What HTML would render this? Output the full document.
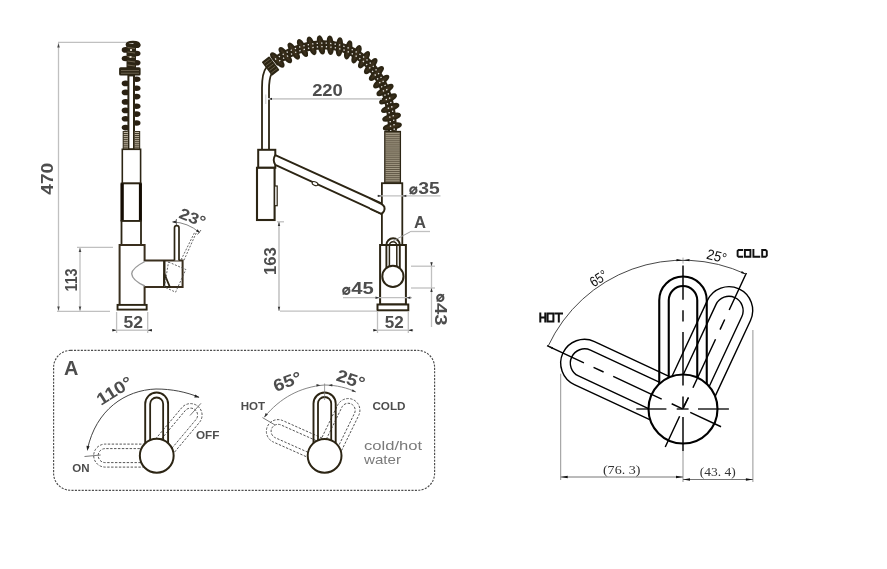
<!DOCTYPE html>
<html><head><meta charset="utf-8"><style>
html,body{margin:0;padding:0;background:#fff;}
body{width:887px;height:569px;overflow:hidden;}
svg{display:block;will-change:transform;}
</style></head><body>
<svg width="887" height="569" viewBox="0 0 887 569">
<rect width="887" height="569" fill="#fff"/>
<line x1="58" y1="42.4" x2="127" y2="42.4" stroke="#c0c0c0" stroke-width="1.3" />
<line x1="58.5" y1="43" x2="58.5" y2="311" stroke="#c0c0c0" stroke-width="1.3" />
<path d="M58.5 43.5 L59.8 47.5 L57.2 47.5 Z" fill="#444"/>
<path d="M58.5 310.5 L57.2 306.5 L59.8 306.5 Z" fill="#444"/>
<text x="46.6" y="178.7" font-family="Liberation Sans" font-size="16.5" font-weight="bold" fill="#4d4d4d" text-anchor="middle" dominant-baseline="central" transform="rotate(-90 46.6 178.7)" textLength="32" lengthAdjust="spacingAndGlyphs" >470</text>
<line x1="77" y1="247.3" x2="113" y2="247.3" stroke="#c0c0c0" stroke-width="1.3" />
<line x1="80" y1="248" x2="80" y2="311" stroke="#c0c0c0" stroke-width="1.3" />
<path d="M80 248 L81.3 252 L78.7 252 Z" fill="#444"/>
<path d="M80 310.5 L78.7 306.5 L81.3 306.5 Z" fill="#444"/>
<line x1="57" y1="311.3" x2="110" y2="311.3" stroke="#c0c0c0" stroke-width="1.3" />
<text x="71.2" y="280" font-family="Liberation Sans" font-size="16.5" font-weight="bold" fill="#4d4d4d" text-anchor="middle" dominant-baseline="central" transform="rotate(-90 71.2 280)" textLength="23" lengthAdjust="spacingAndGlyphs" >113</text>
<line x1="116.6" y1="312" x2="116.6" y2="333" stroke="#c0c0c0" stroke-width="1.3" />
<line x1="147.7" y1="312" x2="147.7" y2="333" stroke="#c0c0c0" stroke-width="1.3" />
<line x1="112" y1="330.2" x2="152" y2="330.2" stroke="#c8c8c8" stroke-width="1.5" />
<path d="M116.6 330.2 L112.4 331.4 L112.4 329 Z" fill="#222"/>
<path d="M147.7 330.2 L151.9 329 L151.9 331.4 Z" fill="#222"/>
<text x="133.2" y="322" font-family="Liberation Sans" font-size="16.5" font-weight="bold" fill="#4d4d4d" text-anchor="middle" dominant-baseline="central" textLength="19.5" lengthAdjust="spacingAndGlyphs" >52</text>
<ellipse cx="125.6" cy="49.9" rx="3.9" ry="2.8" fill="#2a2112"/>
<ellipse cx="125.6" cy="58.5" rx="3.9" ry="2.8" fill="#2a2112"/>
<ellipse cx="125.6" cy="83.4" rx="3.9" ry="2.8" fill="#2a2112"/>
<ellipse cx="125.6" cy="92.4" rx="3.9" ry="2.8" fill="#2a2112"/>
<ellipse cx="125.6" cy="101.9" rx="3.9" ry="2.8" fill="#2a2112"/>
<ellipse cx="125.6" cy="110.4" rx="3.9" ry="2.8" fill="#2a2112"/>
<ellipse cx="125.6" cy="118.8" rx="3.9" ry="2.8" fill="#2a2112"/>
<ellipse cx="125.6" cy="127.6" rx="3.9" ry="2.8" fill="#2a2112"/>
<ellipse cx="136.6" cy="45.3" rx="3.9" ry="2.8" fill="#2a2112"/>
<ellipse cx="136.6" cy="53.5" rx="3.9" ry="2.8" fill="#2a2112"/>
<ellipse cx="136.6" cy="62.7" rx="3.9" ry="2.8" fill="#2a2112"/>
<ellipse cx="136.6" cy="79.2" rx="3.9" ry="2.8" fill="#2a2112"/>
<ellipse cx="136.6" cy="88.2" rx="3.9" ry="2.8" fill="#2a2112"/>
<ellipse cx="136.6" cy="96.6" rx="3.9" ry="2.8" fill="#2a2112"/>
<ellipse cx="136.6" cy="106.2" rx="3.9" ry="2.8" fill="#2a2112"/>
<ellipse cx="136.6" cy="114.1" rx="3.9" ry="2.8" fill="#2a2112"/>
<ellipse cx="136.6" cy="123" rx="3.9" ry="2.8" fill="#2a2112"/>
<ellipse cx="133" cy="44.6" rx="6.2" ry="2.6" fill="none" stroke="#2c2514" stroke-width="2.4"/>
<rect x="126.5" y="44" width="9.5" height="24" fill="#2c2514"/>
<line x1="127.5" y1="47.5" x2="135" y2="48.5" stroke="#7d725c" stroke-width="0.8" />
<line x1="127.5" y1="52" x2="135" y2="53" stroke="#7d725c" stroke-width="0.8" />
<line x1="127.5" y1="56.5" x2="135" y2="57.5" stroke="#7d725c" stroke-width="0.8" />
<line x1="127.5" y1="61" x2="135" y2="62" stroke="#7d725c" stroke-width="0.8" />
<line x1="127.5" y1="65" x2="135" y2="66" stroke="#7d725c" stroke-width="0.8" />
<rect x="130" y="49" width="2" height="2" fill="#d8d2c4"/>
<rect x="129.5" y="56" width="2" height="2" fill="#d8d2c4"/>
<rect x="119.1" y="67.2" width="21.5" height="8.2" rx="1.5" fill="#2c2514"/>
<line x1="121" y1="70.6" x2="139" y2="70.6" stroke="#8a7f6a" stroke-width="0.7" />
<line x1="121" y1="73.2" x2="139" y2="73.2" stroke="#8a7f6a" stroke-width="0.7" />
<rect x="128.4" y="75.4" width="5.6" height="74" fill="#fff" stroke="#2c2514" stroke-width="2"/>
<rect x="123.2" y="131" width="4.6" height="18.4" fill="#c2b9a6"/>
<rect x="134.7" y="131" width="5" height="18.4" fill="#c2b9a6"/>
<line x1="123.2" y1="131.5" x2="127.8" y2="131.5" stroke="#2c2514" stroke-width="0.9" />
<line x1="134.7" y1="131.5" x2="139.7" y2="131.5" stroke="#2c2514" stroke-width="0.9" />
<line x1="123.2" y1="133.55" x2="127.8" y2="133.55" stroke="#2c2514" stroke-width="0.9" />
<line x1="134.7" y1="133.55" x2="139.7" y2="133.55" stroke="#2c2514" stroke-width="0.9" />
<line x1="123.2" y1="135.6" x2="127.8" y2="135.6" stroke="#2c2514" stroke-width="0.9" />
<line x1="134.7" y1="135.6" x2="139.7" y2="135.6" stroke="#2c2514" stroke-width="0.9" />
<line x1="123.2" y1="137.65" x2="127.8" y2="137.65" stroke="#2c2514" stroke-width="0.9" />
<line x1="134.7" y1="137.65" x2="139.7" y2="137.65" stroke="#2c2514" stroke-width="0.9" />
<line x1="123.2" y1="139.7" x2="127.8" y2="139.7" stroke="#2c2514" stroke-width="0.9" />
<line x1="134.7" y1="139.7" x2="139.7" y2="139.7" stroke="#2c2514" stroke-width="0.9" />
<line x1="123.2" y1="141.75" x2="127.8" y2="141.75" stroke="#2c2514" stroke-width="0.9" />
<line x1="134.7" y1="141.75" x2="139.7" y2="141.75" stroke="#2c2514" stroke-width="0.9" />
<line x1="123.2" y1="143.8" x2="127.8" y2="143.8" stroke="#2c2514" stroke-width="0.9" />
<line x1="134.7" y1="143.8" x2="139.7" y2="143.8" stroke="#2c2514" stroke-width="0.9" />
<line x1="123.2" y1="145.85" x2="127.8" y2="145.85" stroke="#2c2514" stroke-width="0.9" />
<line x1="134.7" y1="145.85" x2="139.7" y2="145.85" stroke="#2c2514" stroke-width="0.9" />
<line x1="123.2" y1="147.9" x2="127.8" y2="147.9" stroke="#2c2514" stroke-width="0.9" />
<line x1="134.7" y1="147.9" x2="139.7" y2="147.9" stroke="#2c2514" stroke-width="0.9" />
<line x1="123.2" y1="131" x2="123.2" y2="149.4" stroke="#2c2514" stroke-width="1" />
<line x1="139.7" y1="131" x2="139.7" y2="149.4" stroke="#2c2514" stroke-width="1" />
<rect x="122.3" y="149.3" width="18.3" height="34.1" fill="#fff" stroke="#2c2514" stroke-width="1.6"/>
<rect x="121.6" y="183.4" width="19.1" height="37.6" fill="#fff" stroke="#2c2514" stroke-width="1.8"/>
<line x1="122.2" y1="183.4" x2="122.2" y2="221" stroke="#140c02" stroke-width="3.2" />
<line x1="140.4" y1="183.4" x2="140.4" y2="221" stroke="#140c02" stroke-width="3.0" />
<rect x="121.5" y="221" width="19.5" height="24.1" fill="#fff" stroke="#2c2514" stroke-width="1.8"/>
<path d="M119.6 304 V245.1 H144.6 V260.6 H182.6 V286.9 H144.6 V304" fill="#fff" stroke="#3a2f1e" stroke-width="2"/>
<path d="M144.9 261.5 C136 266 132 270 131.7 273.7 C132 278 136 282 144.9 286" fill="none" stroke="#9a9a9a" stroke-width="1.4"/>
<line x1="164.3" y1="260.6" x2="164.3" y2="286.9" stroke="#2c2514" stroke-width="2.4" />
<path d="M164.3 273.5 L169.8 286.9 L164.3 286.9 Z" fill="#fff" stroke="#2c2514" stroke-width="1.8" stroke-linejoin="miter"/>
<rect x="117.55" y="304.9" width="29.1" height="4.7" fill="#fff" stroke="#2c2514" stroke-width="1.9"/>
<path d="M174.5 260.6 V227.8 A2.25 2.25 0 0 1 179 227.8 V260.6" fill="#fff" stroke="#2c2514" stroke-width="1.7"/>
<path d="M168.5 262 L185.8 269.5 L175.6 292.2 L164.5 287 Z" fill="none" stroke="#555" stroke-width="0.9" stroke-dasharray="2 1.5"/>
<path d="M181.1 259.8 L194.6 232.4 M183.9 260.3 L197 231.2" stroke="#555" stroke-width="0.9" stroke-dasharray="2 1.5"/>
<path d="M172.5 221.9 Q188 222.5 199.5 232.6" fill="none" stroke="#777" stroke-width="0.9"/>
<path d="M172.1 221.9 L175.9 220.6 L175.9 223.2 Z" fill="#222"/>
<path d="M199.7 232.8 L195.99 231.27 L197.7 229.32 Z" fill="#222"/>
<line x1="176.4" y1="219" x2="176.4" y2="225" stroke="#444" stroke-width="0.8" />
<line x1="197.5" y1="234.5" x2="201" y2="230" stroke="#444" stroke-width="0.8" />
<text x="192.6" y="217.4" font-family="Liberation Sans" font-size="15.5" font-weight="bold" fill="#4d4d4d" text-anchor="middle" dominant-baseline="central" transform="rotate(22 192.6 217.4)" textLength="27" lengthAdjust="spacingAndGlyphs" >23°</text>
<path d="M274.5 62 L277.73 59.76 L280.98 57.69 L284.25 55.77 L287.53 54.01 L290.82 52.41 L294.11 50.96 L297.41 49.67 L300.7 48.54 L303.99 47.56 L307.27 46.73 L310.54 46.06 L313.79 45.54 L317.02 45.16 L320.24 44.94 L323.42 44.87 L326.58 44.95 L329.71 45.18 L332.8 45.56 L335.85 46.08 L338.86 46.75 L341.82 47.56 L344.74 48.52 L347.6 49.62 L350.4 50.86 L353.15 52.25 L355.83 53.78 L358.45 55.45 L361 57.26 L363.47 59.21 L365.87 61.29 L368.19 63.52 L370.42 65.88 L372.57 68.38 L374.62 71.02 L376.59 73.79 L378.45 76.69 L380.22 79.73 L381.88 82.9 L383.44 86.2 L384.88 89.63 L386.21 93.19 L387.43 96.88 L388.52 100.71 L389.49 104.65 L390.33 108.73 L391.04 112.94 L391.61 117.26 L392.05 121.72 L392.35 126.3 L392.5 131 L392.5 131" fill="none" stroke="#2f2616" stroke-width="9"/>
<ellipse cx="277.37" cy="60" rx="8.8" ry="2.6" transform="rotate(46.25 277.37 60)" fill="#3a2f1c" stroke="#2c2514" stroke-width="1.9"/>
<ellipse cx="285.35" cy="55.16" rx="8.8" ry="2.6" transform="rotate(51.37 285.35 55.16)" fill="#3a2f1c" stroke="#2c2514" stroke-width="1.9"/>
<ellipse cx="293.75" cy="51.11" rx="8.8" ry="2.6" transform="rotate(57.31 293.75 51.11)" fill="#3a2f1c" stroke="#2c2514" stroke-width="1.9"/>
<ellipse cx="302.54" cy="47.97" rx="8.8" ry="2.6" transform="rotate(63.55 302.54 47.97)" fill="#3a2f1c" stroke="#2c2514" stroke-width="1.9"/>
<ellipse cx="311.62" cy="45.87" rx="8.8" ry="2.6" transform="rotate(70.41 311.62 45.87)" fill="#3a2f1c" stroke="#2c2514" stroke-width="1.9"/>
<ellipse cx="320.9" cy="44.92" rx="8.8" ry="2.6" transform="rotate(77.91 320.9 44.92)" fill="#3a2f1c" stroke="#2c2514" stroke-width="1.9"/>
<ellipse cx="330.22" cy="45.23" rx="8.8" ry="2.6" transform="rotate(86.05 330.22 45.23)" fill="#3a2f1c" stroke="#2c2514" stroke-width="1.9"/>
<ellipse cx="339.4" cy="46.88" rx="8.8" ry="2.6" transform="rotate(94.46 339.4 46.88)" fill="#3a2f1c" stroke="#2c2514" stroke-width="1.9"/>
<ellipse cx="348.22" cy="49.88" rx="8.8" ry="2.6" transform="rotate(103.03 348.22 49.88)" fill="#3a2f1c" stroke="#2c2514" stroke-width="1.9"/>
<ellipse cx="356.5" cy="54.18" rx="8.8" ry="2.6" transform="rotate(112 356.5 54.18)" fill="#3a2f1c" stroke="#2c2514" stroke-width="1.9"/>
<ellipse cx="364.03" cy="59.68" rx="8.8" ry="2.6" transform="rotate(120.17 364.03 59.68)" fill="#3a2f1c" stroke="#2c2514" stroke-width="1.9"/>
<ellipse cx="370.7" cy="66.19" rx="8.8" ry="2.6" transform="rotate(128.48 370.7 66.19)" fill="#3a2f1c" stroke="#2c2514" stroke-width="1.9"/>
<ellipse cx="376.43" cy="73.55" rx="8.8" ry="2.6" transform="rotate(135.8 376.43 73.55)" fill="#3a2f1c" stroke="#2c2514" stroke-width="1.9"/>
<ellipse cx="381.21" cy="81.56" rx="8.8" ry="2.6" transform="rotate(142.47 381.21 81.56)" fill="#3a2f1c" stroke="#2c2514" stroke-width="1.9"/>
<ellipse cx="385.05" cy="90.06" rx="8.8" ry="2.6" transform="rotate(148.5 385.05 90.06)" fill="#3a2f1c" stroke="#2c2514" stroke-width="1.9"/>
<ellipse cx="388.03" cy="98.9" rx="8.8" ry="2.6" transform="rotate(154.18 388.03 98.9)" fill="#3a2f1c" stroke="#2c2514" stroke-width="1.9"/>
<ellipse cx="390.19" cy="107.98" rx="8.8" ry="2.6" transform="rotate(159 390.19 107.98)" fill="#3a2f1c" stroke="#2c2514" stroke-width="1.9"/>
<ellipse cx="391.61" cy="117.2" rx="8.8" ry="2.6" transform="rotate(163.29 391.61 117.2)" fill="#3a2f1c" stroke="#2c2514" stroke-width="1.9"/>
<ellipse cx="392.36" cy="126.5" rx="8.8" ry="2.6" transform="rotate(167.35 392.36 126.5)" fill="#3a2f1c" stroke="#2c2514" stroke-width="1.9"/>
<path d="M275.08 59.39 L276.72 58.27 L278.37 57.2 L280.03 56.16 L281.69 55.17 L283.35 54.21 L285.02 53.29 L286.69 52.42 L288.37 51.58 L290.05 50.78 L291.72 50.03 L293.4 49.31 L295.09 48.63 L296.77 47.99 L298.45 47.39 L300.13 46.83 L301.81 46.31 L303.49 45.83 L305.17 45.38 L306.85 44.98 L308.52 44.62 L310.19 44.29 L311.86 44 L313.52 43.76 L315.18 43.55 L316.84 43.37 L318.49 43.24 L320.13 43.15 L321.77 43.09 L323.41 43.07 L325.03 43.1 L326.65 43.16 L328.26 43.25 L329.86 43.39 L331.45 43.56 L333.04 43.77 L334.61 44.02 L336.18 44.31 L337.73 44.63 L339.27 44.99 L340.8 45.39 L342.32 45.83 L343.83 46.3 L345.32 46.81 L346.8 47.36 L348.27 47.95 L349.72 48.57 L351.15 49.23 L352.58 49.92 L353.98 50.65 L355.37 51.42 L356.74 52.23 L358.1 53.07 L359.44 53.94 L360.76 54.86 L362.06 55.8 L363.34 56.79 L364.6 57.81 L365.84 58.86 L367.07 59.95 L368.27 61.08 L369.45 62.24 L370.61 63.43 L371.74 64.66 L372.86 65.93 L373.95 67.22 L375.01 68.56 L376.06 69.92 L377.07 71.33 L378.07 72.76 L379.04 74.23 L379.98 75.73 L380.9 77.27 L381.79 78.84 L382.65 80.44 L383.49 82.08 L384.3 83.74 L385.08 85.45 L385.83 87.18 L386.55 88.95 L387.24 90.75 L387.91 92.58 L388.54 94.44 L389.14 96.34 L389.72 98.27 L390.26 100.23 L390.76 102.22 L391.24 104.24 L391.69 106.3 L392.1 108.38 L392.47 110.5 L392.82 112.65 L393.13 114.83 L393.4 117.04 L393.64 119.28 L393.85 121.56 L394.01 123.86 L394.15 126.2 L394.24 128.56 L394.3 130.96" fill="none" stroke="#fff" stroke-width="1.3" stroke-dasharray="1.3 3.2" opacity="0.9"/>
<path d="M277.15 62.33 L278.74 61.25 L280.34 60.21 L281.94 59.21 L283.54 58.25 L285.15 57.33 L286.76 56.45 L288.37 55.6 L289.98 54.8 L291.59 54.03 L293.2 53.31 L294.82 52.62 L296.43 51.97 L298.04 51.36 L299.66 50.78 L301.27 50.25 L302.88 49.75 L304.48 49.29 L306.09 48.87 L307.69 48.48 L309.29 48.13 L310.88 47.82 L312.47 47.55 L314.05 47.32 L315.63 47.12 L317.21 46.96 L318.78 46.83 L320.34 46.74 L321.89 46.69 L323.44 46.67 L324.98 46.7 L326.52 46.75 L328.04 46.85 L329.56 46.97 L331.06 47.14 L332.56 47.34 L334.05 47.58 L335.53 47.85 L336.99 48.16 L338.45 48.5 L339.89 48.88 L341.33 49.29 L342.75 49.74 L344.15 50.22 L345.55 50.74 L346.93 51.29 L348.3 51.88 L349.65 52.5 L350.99 53.16 L352.32 53.85 L353.63 54.57 L354.92 55.33 L356.2 56.13 L357.46 56.95 L358.71 57.82 L359.94 58.71 L361.15 59.64 L362.34 60.61 L363.51 61.61 L364.67 62.64 L365.81 63.7 L366.92 64.8 L368.02 65.94 L369.1 67.1 L370.15 68.3 L371.19 69.54 L372.2 70.81 L373.19 72.11 L374.16 73.44 L375.11 74.81 L376.03 76.21 L376.93 77.65 L377.8 79.11 L378.66 80.61 L379.48 82.15 L380.28 83.71 L381.06 85.31 L381.8 86.95 L382.52 88.61 L383.22 90.31 L383.88 92.04 L384.52 93.8 L385.13 95.6 L385.71 97.43 L386.26 99.29 L386.79 101.18 L387.28 103.11 L387.74 105.07 L388.17 107.06 L388.56 109.08 L388.93 111.13 L389.26 113.22 L389.56 115.34 L389.83 117.49 L390.06 119.67 L390.26 121.88 L390.42 124.12 L390.55 126.4 L390.64 128.71 L390.7 131.04" fill="none" stroke="#fff" stroke-width="1.3" stroke-dasharray="1.3 3.2" stroke-dashoffset="2" opacity="0.9"/>
<path d="M262 149 V88 C262 78 263.5 71 266.3 67.5" fill="none" stroke="#2c2514" stroke-width="1.8"/>
<path d="M269 149 V90 C269 82 269.8 77 271.5 73.8" fill="none" stroke="#2c2514" stroke-width="1.8"/>
<rect x="-4.8" y="-8.6" width="9.6" height="17.2" rx="1" fill="#2c2514" transform="translate(270.6 66) rotate(-37)"/>
<line x1="-3.6" y1="-6" x2="3.6" y2="-6" stroke="#7d725c" stroke-width="0.6" transform="translate(270.6 66) rotate(-37)"/>
<line x1="-3.6" y1="-3" x2="3.6" y2="-3" stroke="#7d725c" stroke-width="0.6" transform="translate(270.6 66) rotate(-37)"/>
<line x1="-3.6" y1="0" x2="3.6" y2="0" stroke="#7d725c" stroke-width="0.6" transform="translate(270.6 66) rotate(-37)"/>
<line x1="-3.6" y1="3" x2="3.6" y2="3" stroke="#7d725c" stroke-width="0.6" transform="translate(270.6 66) rotate(-37)"/>
<line x1="-3.6" y1="6" x2="3.6" y2="6" stroke="#7d725c" stroke-width="0.6" transform="translate(270.6 66) rotate(-37)"/>
<rect x="384.8" y="131.5" width="15.6" height="51.7" fill="#a39a85" stroke="#2c2514" stroke-width="1.3"/>
<line x1="385.3" y1="132.6" x2="399.9" y2="132.6" stroke="#4a4030" stroke-width="0.75" />
<line x1="385.3" y1="134.65" x2="399.9" y2="134.65" stroke="#4a4030" stroke-width="0.75" />
<line x1="385.3" y1="136.7" x2="399.9" y2="136.7" stroke="#4a4030" stroke-width="0.75" />
<line x1="385.3" y1="138.75" x2="399.9" y2="138.75" stroke="#4a4030" stroke-width="0.75" />
<line x1="385.3" y1="140.8" x2="399.9" y2="140.8" stroke="#4a4030" stroke-width="0.75" />
<line x1="385.3" y1="142.85" x2="399.9" y2="142.85" stroke="#4a4030" stroke-width="0.75" />
<line x1="385.3" y1="144.9" x2="399.9" y2="144.9" stroke="#4a4030" stroke-width="0.75" />
<line x1="385.3" y1="146.95" x2="399.9" y2="146.95" stroke="#4a4030" stroke-width="0.75" />
<line x1="385.3" y1="149" x2="399.9" y2="149" stroke="#4a4030" stroke-width="0.75" />
<line x1="385.3" y1="151.05" x2="399.9" y2="151.05" stroke="#4a4030" stroke-width="0.75" />
<line x1="385.3" y1="153.1" x2="399.9" y2="153.1" stroke="#4a4030" stroke-width="0.75" />
<line x1="385.3" y1="155.15" x2="399.9" y2="155.15" stroke="#4a4030" stroke-width="0.75" />
<line x1="385.3" y1="157.2" x2="399.9" y2="157.2" stroke="#4a4030" stroke-width="0.75" />
<line x1="385.3" y1="159.25" x2="399.9" y2="159.25" stroke="#4a4030" stroke-width="0.75" />
<line x1="385.3" y1="161.3" x2="399.9" y2="161.3" stroke="#4a4030" stroke-width="0.75" />
<line x1="385.3" y1="163.35" x2="399.9" y2="163.35" stroke="#4a4030" stroke-width="0.75" />
<line x1="385.3" y1="165.4" x2="399.9" y2="165.4" stroke="#4a4030" stroke-width="0.75" />
<line x1="385.3" y1="167.45" x2="399.9" y2="167.45" stroke="#4a4030" stroke-width="0.75" />
<line x1="385.3" y1="169.5" x2="399.9" y2="169.5" stroke="#4a4030" stroke-width="0.75" />
<line x1="385.3" y1="171.55" x2="399.9" y2="171.55" stroke="#4a4030" stroke-width="0.75" />
<line x1="385.3" y1="173.6" x2="399.9" y2="173.6" stroke="#4a4030" stroke-width="0.75" />
<line x1="385.3" y1="175.65" x2="399.9" y2="175.65" stroke="#4a4030" stroke-width="0.75" />
<line x1="385.3" y1="177.7" x2="399.9" y2="177.7" stroke="#4a4030" stroke-width="0.75" />
<line x1="385.3" y1="179.75" x2="399.9" y2="179.75" stroke="#4a4030" stroke-width="0.75" />
<line x1="385.3" y1="181.8" x2="399.9" y2="181.8" stroke="#4a4030" stroke-width="0.75" />
<rect x="258.2" y="149.8" width="17.1" height="18" fill="#fff" stroke="#2c2514" stroke-width="2"/>
<rect x="257" y="167.8" width="17.6" height="52.2" fill="#fff" stroke="#2c2514" stroke-width="2.1"/>
<rect x="274.6" y="186" width="2.6" height="19.7" fill="#fff" stroke="#2c2514" stroke-width="1.2"/>
<path d="M275.3 155.1 L382.3 203.8 Q386 209 382.3 214 L275.3 164.8 Q272 160 275.3 155.1 Z" fill="#fff" stroke="none"/>
<path d="M275.3 155.1 L382.3 203.8 Q386 209 382.3 214 L275.3 164.8 M275.3 155.1 Q272.2 160 275.3 164.8" fill="none" stroke="#2c2514" stroke-width="1.9"/>
<ellipse cx="315" cy="183.6" rx="3" ry="1.8" transform="rotate(24 315 183.6)" fill="#fff" stroke="#2c2514" stroke-width="1"/>
<rect x="381.9" y="183.2" width="20.4" height="62" fill="#fff" stroke="#2c2514" stroke-width="1.8"/>
<path d="M370 198.5 L381.3 203.9 Q386 206.5 384 211 L381.3 213.9 L370 208.6 Z" fill="#fff"/>
<path d="M370 198.5 L381.3 203.9 Q386 206.5 384 211 Q383 213 381.3 213.9 L370 208.6" fill="none" stroke="#2c2514" stroke-width="1.9"/>
<rect x="380.1" y="245" width="25.8" height="59.5" fill="#fff" stroke="#2c2514" stroke-width="2"/>
<rect x="377.5" y="304.5" width="30.8" height="5.8" fill="#fff" stroke="#2c2514" stroke-width="2"/>
<path d="M386.4 270 V245 A6.7 6.7 0 0 1 399.8 245 V270" fill="none" stroke="#2c2514" stroke-width="1.9"/>
<path d="M389.4 270 V245.5 A3.7 3.7 0 0 1 396.8 245.5 V270" fill="none" stroke="#2c2514" stroke-width="1.5"/>
<circle cx="392.9" cy="276.4" r="10.6" fill="#fff" stroke="#2c2514" stroke-width="2"/>
<line x1="268" y1="98.9" x2="382" y2="98.9" stroke="#cdcdcd" stroke-width="1.7" />
<line x1="265.8" y1="94.5" x2="265.8" y2="104" stroke="#c8c8c8" stroke-width="1" />
<path d="M269 98.9 L272 97.7 L272 100.1 Z" fill="#222"/>
<text x="327.5" y="90.3" font-family="Liberation Sans" font-size="16" font-weight="bold" fill="#4d4d4d" text-anchor="middle" dominant-baseline="central" textLength="30.7" lengthAdjust="spacingAndGlyphs" >220</text>
<line x1="377" y1="195.9" x2="440.5" y2="195.9" stroke="#c0c0c0" stroke-width="1.3" />
<path d="M381.9 195.9 L377.9 197.1 L377.9 194.7 Z" fill="#333"/>
<path d="M402.3 195.9 L406.3 194.7 L406.3 197.1 Z" fill="#333"/>
<circle cx="413.4" cy="190.4" r="3.1" fill="none" stroke="#4d4d4d" stroke-width="2.1"/>
<line x1="409.8" y1="194" x2="417" y2="186.8" stroke="#4d4d4d" stroke-width="1.5" />
<text x="429.1" y="188.1" font-family="Liberation Sans" font-size="16" font-weight="bold" fill="#4d4d4d" text-anchor="middle" dominant-baseline="central" textLength="21.5" lengthAdjust="spacingAndGlyphs" >35</text>
<text x="420" y="222" font-family="Liberation Sans" font-size="16" font-weight="bold" fill="#4d4d4d" text-anchor="middle" dominant-baseline="central" textLength="12" lengthAdjust="spacingAndGlyphs" >A</text>
<line x1="410.8" y1="231.5" x2="430" y2="231.5" stroke="#c0c0c0" stroke-width="1.3" />
<line x1="410.8" y1="231.5" x2="393" y2="241" stroke="#a0a0a0" stroke-width="1" />
<line x1="279" y1="222" x2="279" y2="311" stroke="#b0b0b0" stroke-width="1.2" />
<line x1="277" y1="221.8" x2="284" y2="221.8" stroke="#c0c0c0" stroke-width="1.3" />
<path d="M279 222 L280.2 226 L277.8 226 Z" fill="#333"/>
<path d="M279 310.8 L277.8 306.8 L280.2 306.8 Z" fill="#333"/>
<line x1="280" y1="311.2" x2="377" y2="311.2" stroke="#c0c0c0" stroke-width="1.3" />
<text x="270.7" y="261.2" font-family="Liberation Sans" font-size="16" font-weight="bold" fill="#4d4d4d" text-anchor="middle" dominant-baseline="central" transform="rotate(-90 270.7 261.2)" textLength="27.7" lengthAdjust="spacingAndGlyphs" >163</text>
<circle cx="346.3" cy="290.9" r="3.1" fill="none" stroke="#4d4d4d" stroke-width="2.1"/>
<line x1="342.7" y1="294.5" x2="349.9" y2="287.3" stroke="#4d4d4d" stroke-width="1.5" />
<text x="362.4" y="288.8" font-family="Liberation Sans" font-size="16" font-weight="bold" fill="#4d4d4d" text-anchor="middle" dominant-baseline="central" textLength="22.5" lengthAdjust="spacingAndGlyphs" >45</text>
<line x1="343" y1="297.7" x2="412" y2="297.7" stroke="#c0c0c0" stroke-width="1.3" />
<path d="M379.5 297.7 L375.5 298.9 L375.5 296.5 Z" fill="#333"/>
<path d="M406.4 297.7 L410.4 296.5 L410.4 298.9 Z" fill="#333"/>
<line x1="411" y1="266.2" x2="435" y2="266.2" stroke="#c0c0c0" stroke-width="1.3" />
<line x1="411" y1="288" x2="435" y2="288" stroke="#c0c0c0" stroke-width="1.3" />
<line x1="431.5" y1="262" x2="431.5" y2="327" stroke="#c0c0c0" stroke-width="1.3" />
<path d="M431.5 266.2 L430.3 262.2 L432.7 262.2 Z" fill="#333"/>
<path d="M431.5 288 L432.7 292 L430.3 292 Z" fill="#333"/>
<circle cx="440.3" cy="297.9" r="3.1" fill="none" stroke="#4d4d4d" stroke-width="2.1"/>
<line x1="436.7" y1="301.5" x2="443.9" y2="294.3" stroke="#4d4d4d" stroke-width="1.5" />
<text x="440.4" y="314.3" font-family="Liberation Sans" font-size="16" font-weight="bold" fill="#4d4d4d" text-anchor="middle" dominant-baseline="central" transform="rotate(90 440.4 314.3)" textLength="22.5" lengthAdjust="spacingAndGlyphs" >43</text>
<line x1="377.5" y1="312" x2="377.5" y2="333" stroke="#c0c0c0" stroke-width="1.3" />
<line x1="408.3" y1="312" x2="408.3" y2="333" stroke="#c0c0c0" stroke-width="1.3" />
<line x1="373.5" y1="330.2" x2="413.2" y2="330.2" stroke="#c8c8c8" stroke-width="1.5" />
<path d="M377.5 330.2 L373.3 331.4 L373.3 329 Z" fill="#222"/>
<path d="M408.3 330.2 L412.5 329 L412.5 331.4 Z" fill="#222"/>
<text x="394.2" y="322" font-family="Liberation Sans" font-size="16.5" font-weight="bold" fill="#4d4d4d" text-anchor="middle" dominant-baseline="central" textLength="19" lengthAdjust="spacingAndGlyphs" >52</text>
<rect x="53.6" y="350.4" width="381" height="139.9" rx="17" fill="none" stroke="#4d4d4d" stroke-width="1.15" stroke-dasharray="2.1 1.3"/>
<text x="71.2" y="367.8" font-family="Liberation Sans" font-size="19.5" font-weight="bold" fill="#4d4d4d" text-anchor="middle" dominant-baseline="central" textLength="14.4" lengthAdjust="spacingAndGlyphs" >A</text>
<path d="M148.6 467.1 L105.2 467.1 A11.5 11.5 0 0 1 105.2 444.1 L148.6 444.1" fill="none" stroke="#555" stroke-width="1" stroke-dasharray="2.4 1.5"/>
<path d="M148.6 462.6 L105.2 462.6 A7 7 0 0 1 105.2 448.6 L148.6 448.6" fill="none" stroke="#555" stroke-width="1" stroke-dasharray="2.4 1.5"/>
<path d="M152.93 442.08 L181.86 407.61 A11.5 11.5 0 0 1 199.48 422.39 L170.55 456.86" fill="none" stroke="#555" stroke-width="1" stroke-dasharray="2.4 1.5"/>
<path d="M156.38 444.97 L185.31 410.5 A7 7 0 0 1 196.03 419.5 L167.1 453.97" fill="none" stroke="#555" stroke-width="1" stroke-dasharray="2.4 1.5"/>
<path d="M145.2 445.6 L145.2 404 A11.45 11.45 0 0 1 168.1 404 L168.1 445.6" fill="none" stroke="#2c2514" stroke-width="1.9"/>
<path d="M150.15 445.6 L150.15 404 A6.5 6.5 0 0 1 163.15 404 L163.15 445.6" fill="none" stroke="#2c2514" stroke-width="1.8"/>
<circle cx="156.75" cy="455.75" r="16.9" fill="#fff" stroke="#2c2514" stroke-width="2"/>
<line x1="84.5" y1="456.5" x2="100.7" y2="455" stroke="#555" stroke-width="0.8" />
<line x1="190" y1="415.5" x2="201" y2="403.3" stroke="#555" stroke-width="0.8" />
<path d="M87.5 449 C96 410 125 390 156 389 C172 389 186 392 199 397.2" fill="none" stroke="#444" stroke-width="1"/>
<path d="M87.2 451 L86.49 445.8 L89.64 446.35 Z" fill="#222"/>
<path d="M199.5 397.5 L194.25 397.48 L195.24 394.43 Z" fill="#222"/>
<text x="114.6" y="391" font-family="Liberation Sans" font-size="17" font-weight="bold" fill="#4d4d4d" text-anchor="middle" dominant-baseline="central" transform="rotate(-32 114.6 391)" textLength="39" lengthAdjust="spacingAndGlyphs" >110°</text>
<text x="81" y="468.4" font-family="Liberation Sans" font-size="10.5" font-weight="bold" fill="#4d4d4d" text-anchor="middle" dominant-baseline="central" textLength="17.3" lengthAdjust="spacingAndGlyphs" >ON</text>
<text x="207.7" y="434.6" font-family="Liberation Sans" font-size="10.5" font-weight="bold" fill="#4d4d4d" text-anchor="middle" dominant-baseline="central" textLength="23.4" lengthAdjust="spacingAndGlyphs" >OFF</text>
<path d="M313.13 459.73 L273.26 441.98 A11.7 11.7 0 0 1 282.77 420.6 L322.65 438.36" fill="none" stroke="#555" stroke-width="1" stroke-dasharray="2.4 1.5"/>
<path d="M315.04 455.44 L275.17 437.69 A7 7 0 0 1 280.86 424.9 L320.74 442.65" fill="none" stroke="#555" stroke-width="1" stroke-dasharray="2.4 1.5"/>
<path d="M318.59 444.28 L337.73 405.05 A11.7 11.7 0 0 1 358.76 415.31 L339.62 454.54" fill="none" stroke="#555" stroke-width="1" stroke-dasharray="2.4 1.5"/>
<path d="M322.82 446.34 L341.95 407.11 A7 7 0 0 1 354.53 413.25 L335.4 452.48" fill="none" stroke="#555" stroke-width="1" stroke-dasharray="2.4 1.5"/>
<path d="M313.5 446.1 L313.5 403.6 A11.1 11.1 0 0 1 335.7 403.6 L335.7 446.1" fill="none" stroke="#2c2514" stroke-width="1.9"/>
<path d="M318 446.1 L318 403.6 A6.6 6.6 0 0 1 331.2 403.6 L331.2 446.1" fill="none" stroke="#2c2514" stroke-width="1.8"/>
<circle cx="324.6" cy="455.8" r="16.9" fill="#fff" stroke="#2c2514" stroke-width="2"/>
<path d="M264.5 417 C280 398 300 387 324.4 385 C336 385 348 388 355.8 392" fill="none" stroke="#777" stroke-width="0.9"/>
<path d="M264.2 417.5 L265.63 413.01 L267.93 414.62 Z" fill="#333"/>
<path d="M320.5 385.2 L316.5 386.4 L316.5 384 Z" fill="#333"/>
<path d="M328.3 385.2 L332.3 384 L332.3 386.4 Z" fill="#333"/>
<line x1="324.6" y1="383.5" x2="324.6" y2="400" stroke="#777" stroke-width="0.7" />
<path d="M355.8 392 L351.67 391.4 L352.68 389.22 Z" fill="#333"/>
<line x1="262.5" y1="417.6" x2="275" y2="425" stroke="#555" stroke-width="0.8" />
<text x="287.5" y="381.9" font-family="Liberation Sans" font-size="17" font-weight="bold" fill="#4d4d4d" text-anchor="middle" dominant-baseline="central" transform="rotate(-20 287.5 381.9)" textLength="29" lengthAdjust="spacingAndGlyphs" >65°</text>
<text x="350.7" y="379.6" font-family="Liberation Sans" font-size="17" font-weight="bold" fill="#4d4d4d" text-anchor="middle" dominant-baseline="central" transform="rotate(18 350.7 379.6)" textLength="29" lengthAdjust="spacingAndGlyphs" >25°</text>
<text x="252.9" y="405.5" font-family="Liberation Sans" font-size="10.5" font-weight="bold" fill="#4d4d4d" text-anchor="middle" dominant-baseline="central" textLength="24.4" lengthAdjust="spacingAndGlyphs" >HOT</text>
<text x="389" y="405.5" font-family="Liberation Sans" font-size="10.5" font-weight="bold" fill="#4d4d4d" text-anchor="middle" dominant-baseline="central" textLength="33.2" lengthAdjust="spacingAndGlyphs" >COLD</text>
<text x="364" y="445.3" font-family="Liberation Sans" font-size="13.5" font-weight="normal" fill="#7a7a7a" text-anchor="start" dominant-baseline="central" textLength="58.2" lengthAdjust="spacingAndGlyphs" >cold/hot</text>
<text x="364" y="459" font-family="Liberation Sans" font-size="13.5" font-weight="normal" fill="#7a7a7a" text-anchor="start" dominant-baseline="central" textLength="37" lengthAdjust="spacingAndGlyphs" >water</text>
<path d="M672.05 376.28 L707.43 300.4 A23.75 23.75 0 0 1 750.48 320.48 L715.1 396.36" fill="none" stroke="#000000" stroke-width="1.4"/>
<path d="M683.36 374.5 L716.04 304.42 A14.25 14.25 0 0 1 741.87 316.46 L709.19 386.55" fill="none" stroke="#000000" stroke-width="1.4"/>
<path d="M650.28 419.95 L574.4 384.57 A23.75 23.75 0 0 1 594.48 341.52 L668.5 376.03" fill="none" stroke="#000000" stroke-width="1.4"/>
<path d="M648.5 408.64 L578.42 375.96 A14.25 14.25 0 0 1 590.46 350.13 L659.2 382.18" fill="none" stroke="#000000" stroke-width="1.4"/>
<path d="M659.25 383.98 L659.25 300.25 A23.75 23.75 0 0 1 706.75 300.25 L706.75 383.98" fill="none" stroke="#000000" stroke-width="2.1"/>
<path d="M668.75 377.58 L668.75 300.25 A14.25 14.25 0 0 1 697.25 300.25 L697.25 377.58" fill="none" stroke="#000000" stroke-width="2.1"/>
<circle cx="683" cy="409" r="34.5" fill="none" stroke="#000000" stroke-width="2.1"/>
<path d="M683 265.5 L683 299.7 M683 310.3 L683 321.4 M683 332 L683 385.5 M683 396.5 L683 408.5 M683 417 L683 451 " stroke="#000000" stroke-width="1.45" fill="none"/>
<line x1="683" y1="257.6" x2="683" y2="263.6" stroke="#999" stroke-width="0.8" />
<path d="M547.05 345.61 L583.94 362.81 M593.55 367.29 L603.61 371.98 M613.21 376.46 L661.7 399.07 M671.67 403.72 L682.55 408.79 M690.25 412.38 L721.06 426.75 " stroke="#000000" stroke-width="1.45" fill="none"/>
<path d="M746.39 273.05 L729.19 309.94 M724.71 319.55 L720.02 329.61 M715.54 339.21 L692.93 387.7 M688.28 397.67 L683.21 408.55 M679.62 416.25 L665.25 447.06 " stroke="#000000" stroke-width="1.45" fill="none"/>
<line x1="636.3" y1="409" x2="666.4" y2="409" stroke="#000000" stroke-width="1.3" />
<line x1="676.7" y1="409" x2="688.6" y2="409" stroke="#000000" stroke-width="1.3" />
<line x1="698" y1="409" x2="728.9" y2="409" stroke="#000000" stroke-width="1.3" />
<line x1="683.2" y1="406.8" x2="688.6" y2="397.5" stroke="#000000" stroke-width="1.1" />
<path d="M548.14 346.11 A148.8 148.8 0 0 1 745.89 274.14" fill="none" stroke="#333" stroke-width="0.9"/>
<path d="M548.14 346.11 L553.14 347.23 L552.21 349.22 Z" fill="#111"/>
<path d="M682.5 260.2 L676.5 261.3 L676.5 259.1 Z" fill="#111"/>
<path d="M683.5 260.2 L689.5 259.1 L689.5 261.3 Z" fill="#111"/>
<path d="M745.89 274.14 L740.89 273.03 L741.82 271.03 Z" fill="#111"/>
<text x="598.5" y="278.4" font-family="Liberation Sans" font-size="14.5" font-weight="normal" fill="#111" text-anchor="middle" dominant-baseline="central" transform="rotate(-33 598.5 278.4)" textLength="18" lengthAdjust="spacingAndGlyphs" >65°</text>
<text x="716.8" y="256.2" font-family="Liberation Sans" font-size="14.5" font-weight="normal" fill="#111" text-anchor="middle" dominant-baseline="central" transform="rotate(15 716.8 256.2)" textLength="20" lengthAdjust="spacingAndGlyphs" >25°</text>
<path d="M540.3 313.4 V321.5 M545.3 313.4 V321.5 M540.3 317.4 H545.3 M547.6 313.4 H553.4 V321.5 H547.6 Z M555.6 313.4 H562 M558.8 313.4 V321.5" fill="none" stroke="#111" stroke-width="2" stroke-linecap="square"/>
<path d="M742.2 250 H738.6 L737.6 251 V255.8 L738.6 256.8 H742.2 M744.9 250 H750.4 V256.8 H744.9 Z M753.4 250 V256.8 H759.3 M762.2 250 H765.6 L766.8 251.2 V255.6 L765.6 256.8 H762.2 Z" fill="none" stroke="#111" stroke-width="1.9" stroke-linecap="square"/>
<line x1="560.7" y1="373.7" x2="560.7" y2="480" stroke="#888" stroke-width="0.9" />
<line x1="683" y1="451" x2="683" y2="482" stroke="#888" stroke-width="0.9" />
<line x1="752.9" y1="330" x2="752.9" y2="482" stroke="#888" stroke-width="0.9" />
<line x1="560.7" y1="477" x2="683" y2="477" stroke="#666" stroke-width="0.9" />
<line x1="683" y1="479.5" x2="752.9" y2="479.5" stroke="#666" stroke-width="0.9" />
<path d="M560.7 477 L567.7 475.8 L567.7 478.2 Z" fill="#111"/>
<path d="M683 477 L676 478.2 L676 475.8 Z" fill="#111"/>
<path d="M683 479.5 L690 478.3 L690 480.7 Z" fill="#111"/>
<path d="M752.9 479.5 L745.9 480.7 L745.9 478.3 Z" fill="#111"/>
<text x="621.7" y="469.3" font-family="Liberation Serif" font-size="13.2" font-weight="normal" fill="#333" text-anchor="middle" dominant-baseline="central" textLength="37.5" lengthAdjust="spacingAndGlyphs" >(76. 3)</text>
<text x="717.8" y="471.3" font-family="Liberation Serif" font-size="13.2" font-weight="normal" fill="#333" text-anchor="middle" dominant-baseline="central" textLength="36" lengthAdjust="spacingAndGlyphs" >(43. 4)</text>
</svg>
</body></html>
